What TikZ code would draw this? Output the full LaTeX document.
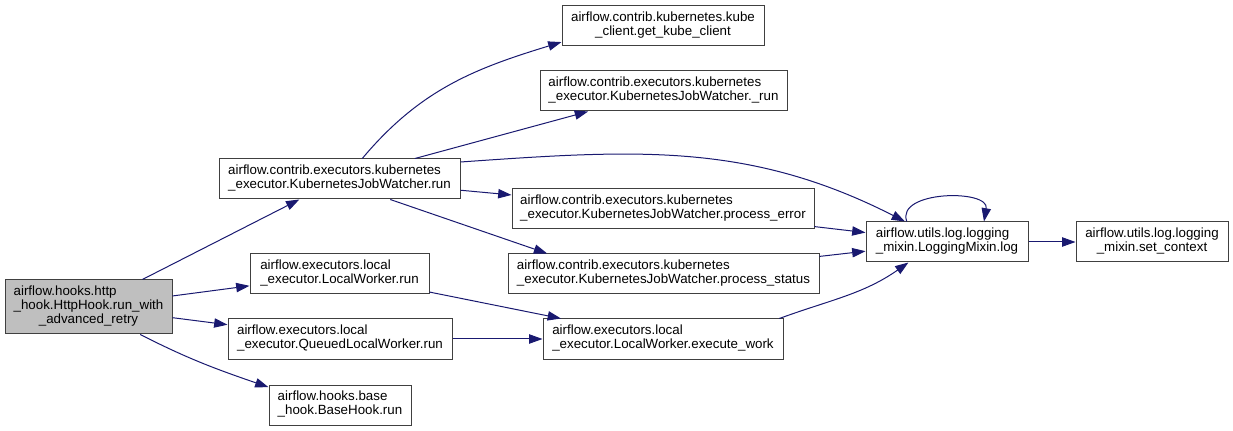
\documentclass[tikz,border=0pt]{standalone}
\usepackage{fontspec}
\setmainfont{Liberation Sans}
\usetikzlibrary{arrows.meta,positioning}
\definecolor{edgeBlue}{RGB}{25,25,112}
\definecolor{boxGrey}{RGB}{64,64,64}
\definecolor{rootGrey}{RGB}{191,191,191}
\tikzset{
    line/.style      = {-{Triangle[length=10pt,width=7pt]}, draw=edgeBlue, line width=0.75pt},
    block/.style     = {draw=boxGrey, line width=0.75pt, fill=white,
            minimum height=30pt, inner sep=0pt,
            font=\fontsize{10}{10.5}\selectfont},
    rootBlock/.style = {block, fill=rootGrey, minimum height=40.5pt},
}
% first lines left, last line centred
\newcommand{\TwoLines}[2]{\begin{tabular}{@{}l@{}}#1\\\multicolumn{1}{@{}c@{}}{#2}\end{tabular}}
\newcommand{\ThreeLines}[3]{\begin{tabular}{@{}l@{}}#1\\#2\\\multicolumn{1}{@{}c@{}}{#3}\end{tabular}}

\begin{document}
\begin{tikzpicture}[x=0.75pt, y=0.75pt]
    \useasboundingbox (0,0) rectangle (1233,-431);

    % caller
    \node[rootBlock, minimum width=125.25pt] (root) at (88.5,-307)
        {\ThreeLines{airflow.hooks.http}{\_hook.HttpHook.run\_with}{\_advanced\_retry}};

    % first level
    \node[block, minimum width=180.75pt] (kjwRun) at (339.5,-179)
        {\TwoLines{airflow.contrib.executors.kubernetes}{\_executor.KubernetesJobWatcher.run}};
    \node[block, minimum width=134.25pt] (lwRun) at (339.5,-274)
        {\TwoLines{airflow.executors.local}{\_executor.LocalWorker.run}};
    \node[block, minimum width=168pt] (qlwRun) at (340,-339)
        {\TwoLines{airflow.executors.local}{\_executor.QueuedLocalWorker.run}};
    \node[block, minimum width=106.5pt] (baseHook) at (340,-405)
        {\TwoLines{airflow.hooks.base}{\_hook.BaseHook.run}};

    % second level
    \node[block, minimum width=151.5pt] (kubeClient) at (663,-26)
        {\TwoLines{airflow.contrib.kubernetes.kube}{\_client.get\_kube\_client}};
    \node[block, minimum width=185.25pt] (jwRunPriv) at (663.5,-91)
        {\TwoLines{airflow.contrib.executors.kubernetes}{\_executor.KubernetesJobWatcher.\_run}};
    \node[block, minimum width=226.5pt] (pError) at (663,-209)
        {\TwoLines{airflow.contrib.executors.kubernetes}{\_executor.KubernetesJobWatcher.process\_error}};
    \node[block, minimum width=233.25pt] (pStatus) at (663.5,-274)
        {\TwoLines{airflow.contrib.executors.kubernetes}{\_executor.KubernetesJobWatcher.process\_status}};
    \node[block, minimum width=180pt] (execWork) at (663,-339)
        {\TwoLines{airflow.executors.local}{\_executor.LocalWorker.execute\_work}};

    % logging
    \node[block, minimum width=121.5pt] (log) at (947,-242)
        {\TwoLines{airflow.utils.log.logging}{\_mixin.LoggingMixin.log}};
    \node[block, minimum width=114pt] (setCtx) at (1152,-242)
        {\TwoLines{airflow.utils.log.logging}{\_mixin.set\_context}};

    % calls
    \draw[line] (root) -- (kjwRun);
    \draw[line] (root) -- (lwRun);
    \draw[line] (root) -- (qlwRun);
    \draw[line] (root.-28) to[out=-27, in=161] (baseHook.166);
    \draw[line] (kjwRun.42) to[out=50, in=197] (kubeClient.189);
    \draw[line] (kjwRun) -- (jwRunPriv);
    \draw[line] (kjwRun.8) to[out=4, in=153] (log.154);
    \draw[line] (kjwRun) -- (pError);
    \draw[line] (kjwRun.-22) -- (pStatus.170);
    \draw[line] (lwRun) -- (execWork);
    \draw[line] (qlwRun) -- (execWork);
    \draw[line] (pError) -- (log);
    \draw[line] (pStatus) -- (log);
    \draw[line] (execWork.10) to[out=20, in=215] (log.208);
    \draw[line] (log.153) to[out=110, in=80, looseness=1.1] (log.29);
    \draw[line] (log) -- (setCtx);
\end{tikzpicture}
\end{document}
